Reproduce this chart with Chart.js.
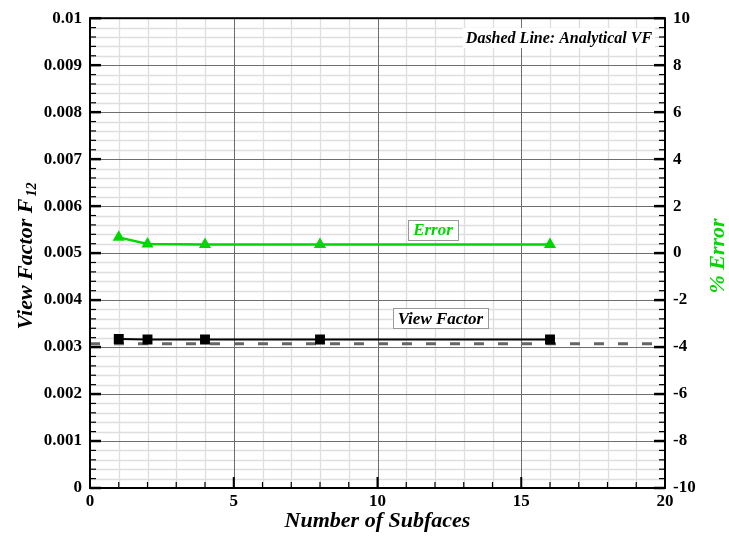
<!DOCTYPE html>
<html><head><meta charset="utf-8">
<script src="https://cdn.jsdelivr.net/npm/chart.js@4.4.0/dist/chart.umd.min.js"></script>
<style>html,body{margin:0;padding:0;background:#fff}</style></head>
<body>
<canvas id="c" width="729" height="537" style="width:729px;height:537px;display:block"></canvas>
<script>
const subfaces = [1, 2, 4, 8, 16];
const viewFactor = [0.003170, 0.003162, 0.003162, 0.003162, 0.003162];
const errorPct = [0.67, 0.39, 0.37, 0.37, 0.37];
const analyticalVF = 0.00307;
const analyticalX = [0, 20];
const xTickLabels = ["0", "5", "10", "15", "20"];
const yTickLabels = ["0", "0.001", "0.002", "0.003", "0.004", "0.005", "0.006", "0.007", "0.008", "0.009", "0.01"];
const y1TickLabels = ["-10", "-8", "-6", "-4", "-2", "0", "2", "4", "6", "8", "10"];
const GREEN = "rgb(0,215,0)";
const SERIF = '"Liberation Serif", "Times New Roman", serif';

const tickFont = {family: SERIF, size: 17, weight: "bold"};
const isMajorX = v => Math.round(v) % 5 === 0;
const isMajorY = v => Math.round(v / 0.0002) % 5 === 0;

const grid = {
  id: "gridlines",
  beforeDatasetsDraw(chart) {
    const ctx = chart.ctx, a = chart.chartArea;
    const sx = chart.scales.x, sy = chart.scales.y;
    ctx.save();
    ctx.lineWidth = 1.3;
    ctx.strokeStyle = "#dedede";
    sx.ticks.forEach(t => { if (!isMajorX(t.value)) { const p = Math.round(sx.getPixelForValue(t.value)) + 0.5; ctx.beginPath(); ctx.moveTo(p, a.top); ctx.lineTo(p, a.bottom); ctx.stroke(); } });
    sy.ticks.forEach(t => { if (!isMajorY(t.value)) { const p = Math.round(sy.getPixelForValue(t.value)) + 0.5; ctx.beginPath(); ctx.moveTo(a.left, p); ctx.lineTo(a.right, p); ctx.stroke(); } });
    ctx.lineWidth = 1;
    ctx.strokeStyle = "#6e6e6e";
    sx.ticks.forEach(t => { if (isMajorX(t.value)) { const p = Math.round(sx.getPixelForValue(t.value)) + 0.5; ctx.beginPath(); ctx.moveTo(p, a.top); ctx.lineTo(p, a.bottom); ctx.stroke(); } });
    sy.ticks.forEach(t => { if (isMajorY(t.value)) { const p = Math.round(sy.getPixelForValue(t.value)) + 0.5; ctx.beginPath(); ctx.moveTo(a.left, p); ctx.lineTo(a.right, p); ctx.stroke(); } });
    ctx.restore();
  }
};

const deco = {
  id: "deco",
  afterDatasetsDraw(chart) {
    const ctx = chart.ctx, a = chart.chartArea;
    const sx = chart.scales.x, sy = chart.scales.y;
    ctx.save();
    // border
    ctx.strokeStyle = "#000"; ctx.lineWidth = 2;
    ctx.strokeRect(a.left, a.top, a.right - a.left, a.bottom - a.top);
    // inward ticks
    sx.ticks.forEach(t => {
      const p = sx.getPixelForValue(t.value);
      const major = isMajorX(t.value);
      ctx.lineWidth = major ? 2 : 1.2;
      const L = major ? 11 : 6;
      ctx.beginPath(); ctx.moveTo(p, a.bottom); ctx.lineTo(p, a.bottom - L); ctx.stroke();
    });
    sy.ticks.forEach(t => {
      const p = sy.getPixelForValue(t.value);
      const major = isMajorY(t.value);
      const L = major ? 11 : 6;
      ctx.lineWidth = major ? 2.5 : 1.2;
      ctx.beginPath(); ctx.moveTo(a.left, p); ctx.lineTo(a.left + L, p); ctx.stroke();
      ctx.beginPath(); ctx.moveTo(a.right, p); ctx.lineTo(a.right - L, p); ctx.stroke();
    });
    // text boxes
    function box(text, xv, yv, color) {
      ctx.font = "italic bold 17px " + SERIF;
      const w = ctx.measureText(text).width;
      const cx = sx.getPixelForValue(xv), cy = sy.getPixelForValue(yv);
      const bw = w + 10, bh = 20;
      ctx.fillStyle = "#fff";
      ctx.fillRect(cx - bw / 2, cy - bh / 2, bw, bh);
      ctx.strokeStyle = "#999"; ctx.lineWidth = 1;
      ctx.strokeRect(Math.round(cx - bw / 2) + 0.5, Math.round(cy - bh / 2) + 0.5, Math.round(bw), bh);
      ctx.fillStyle = color; ctx.textAlign = "center"; ctx.textBaseline = "middle";
      ctx.fillText(text, cx, cy + 1);
    }
    box("Error", 11.93, 0.0055, GREEN);
    box("View Factor", 12.19, 0.00361, "#000");
    // note
    ctx.font = "italic bold 16px " + SERIF;
    const note = "Dashed Line: Analytical VF";
    const nw = ctx.measureText(note).width;
    const nx = sx.getPixelForValue(19.55), ny = sy.getPixelForValue(0.00958);
    ctx.fillStyle = "#fff"; ctx.fillRect(nx - nw - 3, ny - 10, nw + 6, 20);
    ctx.fillStyle = "#000"; ctx.textAlign = "right"; ctx.textBaseline = "middle";
    ctx.fillText(note, nx, ny + 1);
    // x title
    ctx.font = "italic bold 22px " + SERIF;
    ctx.textAlign = "center"; ctx.textBaseline = "middle";
    ctx.fillText("Number of Subfaces", (a.left + a.right) / 2, 521);
    // left title
    ctx.save();
    ctx.translate(24, 256);
    ctx.rotate(-Math.PI / 2);
    const main = "View Factor F", sub = "12";
    ctx.font = "italic bold 22px " + SERIF;
    const mw = ctx.measureText(main).width;
    ctx.font = "italic bold 14px " + SERIF;
    const sw = ctx.measureText(sub).width;
    const start = -(mw + sw + 2) / 2;
    ctx.textAlign = "left"; ctx.textBaseline = "alphabetic";
    ctx.font = "italic bold 22px " + SERIF;
    ctx.fillStyle = "#000";
    ctx.fillText(main, start, 8);
    ctx.font = "italic bold 14px " + SERIF;
    ctx.fillText(sub, start + mw + 2, 12);
    ctx.restore();
    // right title
    ctx.save();
    ctx.translate(718, 256);
    ctx.rotate(-Math.PI / 2);
    ctx.font = "italic bold 22px " + SERIF;
    ctx.fillStyle = GREEN; ctx.textAlign = "center"; ctx.textBaseline = "middle";
    ctx.fillText("% Error", 0, 0);
    ctx.restore();
    ctx.restore();
  }
};

new Chart(document.getElementById("c"), {
  type: "line",
  data: {
    datasets: [
      {
        data: analyticalX.map(x => ({x, y: analyticalVF})),
        yAxisID: "y", borderColor: "#666", borderWidth: 3, borderDash: [10, 14],
        pointRadius: 0, fill: false, order: 3
      },
      {
        data: subfaces.map((x, i) => ({x, y: viewFactor[i]})),
        yAxisID: "y", borderColor: "#000", backgroundColor: "#000", borderWidth: 2,
        pointStyle: "rect", pointRadius: 7, pointBorderWidth: 0, fill: false, order: 2
      },
      {
        data: subfaces.map((x, i) => ({x, y: errorPct[i]})),
        yAxisID: "y1", borderColor: GREEN, backgroundColor: GREEN, borderWidth: 2.5,
        pointStyle: "triangle", pointRadius: 7, pointBorderWidth: 0, fill: false, order: 1
      }
    ]
  },
  options: {
    responsive: false, animation: false,
    layout: {padding: {top: 15, left: 0, right: 0, bottom: 0}},
    plugins: {legend: {display: false}, tooltip: {enabled: false}},
    scales: {
      x: {
        type: "linear", min: 0, max: 20,
        afterFit(s) { s.height = 49; },
        ticks: {
          stepSize: 1, autoSkip: false, maxRotation: 0, padding: 3, color: "#000", font: tickFont,
          callback: v => (isMajorX(v) ? xTickLabels[Math.round(v) / 5] : "")
        },
        grid: {display: false, drawTicks: false},
        border: {display: false}
      },
      y: {
        type: "linear", position: "left", min: 0, max: 0.01,
        afterFit(s) { s.width = 90; },
        ticks: {
          stepSize: 0.0002, autoSkip: false, padding: 8, color: "#000", font: tickFont,
          callback: v => { const i = Math.round(v / 0.0002); return i % 5 === 0 ? yTickLabels[i / 5] : ""; }
        },
        grid: {display: false, drawTicks: false},
        border: {display: false}
      },
      y1: {
        type: "linear", position: "right", min: -10, max: 10,
        afterFit(s) { s.width = 64; },
        ticks: {
          stepSize: 2, autoSkip: false, padding: 8, color: "#000", font: tickFont,
          callback: v => y1TickLabels[Math.round((v + 10) / 2)]
        },
        grid: {display: false, drawTicks: false},
        border: {display: false}
      }
    }
  },
  plugins: [grid, deco]
});
</script>
</body></html>
